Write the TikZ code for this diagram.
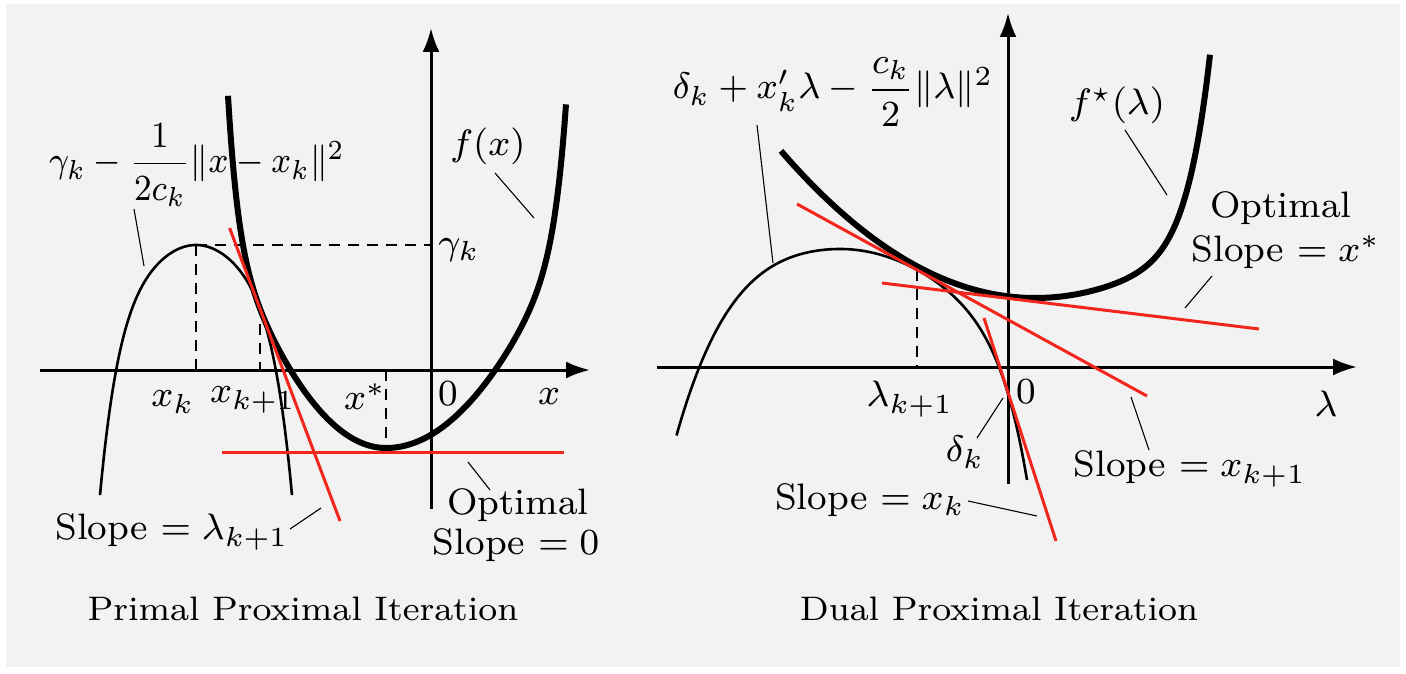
\documentclass[tikz,border=0pt]{standalone}
\usepackage{amsmath}
\usepackage{graphicx}
\usetikzlibrary{arrows.meta}

\definecolor{panelgray}{HTML}{F2F2F2}
\definecolor{tanred}{HTML}{F2261C}

% labels are set small and blown up, like the scanned figure
\newcommand{\lbltxt}[1]{\scalebox{4.6}{\fontsize{8}{9.6}\selectfont #1}}
\newcommand{\captxt}[1]{\scalebox{4.45}[4.25]{\fontsize{8}{9.6}\selectfont #1}}

\begin{document}
\begin{tikzpicture}[
    x=1pt, y=-1pt,
    declare function={
      pw(\x)=ifthenelse(\x<386,(386-\x)/100,(\x-386)/114.3);
      fprimal(\x)=448-85.43*pw(\x)^2-0.0921*pw(\x)^16;
      proxfn(\x)=245+127*(abs(\x-196)/100)^2+170*(abs(\x-196)/100)^6;
      dw(\x)=abs(\x-840)/100;
      dualfn(\x)=249+ifthenelse(\x<840,31*dw(\x)^2+14.5*dw(\x)^4,35*dw(\x)^2+0.726*dw(\x)^8);
      cw(\x)=abs(\x-1035)/100;
      conjfn(\x)=298-ifthenelse(\x<1035,22.8*cw(\x)^2,22*cw(\x)^2+2*cw(\x)^8);
    },
    axis/.style={line width=3pt, -{Latex[length=24pt,width=17pt]}},
    convex/.style={line width=6pt, line join=round},
    concave/.style={line width=2.6pt, line join=round},
    tangent/.style={line width=3pt, draw=tanred},
    leader/.style={line width=1.1pt},
    guide/.style={line width=1.4pt, dash pattern=on 11pt off 8pt},
    lbl/.style={inner sep=0pt}
]
\useasboundingbox (0,0) rectangle (1406,674);
\fill[white] (0,0) rectangle (1406,674);
\fill[panelgray] (6,4) rectangle (1400,667);

% ---------------- Primal proximal iteration ----------------
\coordinate (pxL) at (40,370);
\coordinate (pxR) at (590,370);
\coordinate (pyB) at (431,509);
\coordinate (pyT) at (431,28);
\draw[axis] (pxL) -- (pxR);
\draw[axis] (pyB) -- (pyT);

% key points
\coordinate (peak) at (196,245);
\coordinate (peakx) at (196,370);
\coordinate (gammay) at (431,245);
\coordinate (touch) at (260,324);
\coordinate (touchx) at (260,370);
\coordinate (xopt) at (386,448);
\coordinate (xoptx) at (386,370);

% dashed guides
\draw[guide] (peak) -- (gammay);
\draw[guide] (peak) -- (peakx);
\draw[guide] (touch) -- (touchx);
\draw[guide] (xoptx) -- (xopt);

% curves
\draw[concave] plot[domain=100:292, samples=120] (\x,{proxfn(\x)});
\draw[convex] plot[domain=228:566, samples=240] (\x,{fprimal(\x)});

% tangent lines
\coordinate (tA1) at (229.6,228);
\coordinate (tA2) at (340,521);
\coordinate (tB1) at (222,452);
\coordinate (tB2) at (564,452);
\draw[tangent] (tA1) -- (tA2);
\draw[tangent] (tB1) -- (tB2);

% labels
\node[lbl] (proxlab) at (197,165) {\scalebox{0.9}[1]{\lbltxt{$\gamma_k - \dfrac{1}{2c_k}\|x - x_k\|^2$}}};
\node[lbl] (fx) at (488,146) {\lbltxt{$f(x)$}};
\node[lbl] (gk) at (459,250) {\lbltxt{$\gamma_k$}};
\node[lbl] (xk) at (173,402) {\lbltxt{$x_k$}};
\node[lbl] (xk1) at (253,400) {\lbltxt{$x_{k+1}$}};
\node[lbl] (xs) at (365,397) {\lbltxt{$x^*$}};
\node[lbl] (zeroL) at (448,394) {\lbltxt{$0$}};
\node[lbl] (xlab) at (549,397) {\lbltxt{$x$}};
\node[lbl] (slopeL) at (172,532) {\lbltxt{Slope $=\lambda_{k+1}$}};
\node[lbl] (optL) at (518,505) {\lbltxt{Optimal}};
\node[lbl] (zeroslope) at (516,545) {\lbltxt{Slope $=0$}};
\node[lbl] (primal) at (303,609) {\captxt{Primal Proximal Iteration}};

% leaders
\coordinate (lp1) at (134,209);
\coordinate (lp2) at (144,266);
\coordinate (lf1) at (495,173);
\coordinate (lf2) at (534,218);
\coordinate (lo1) at (468,462);
\coordinate (lo2) at (490,490);
\coordinate (ls1) at (290,529);
\coordinate (ls2) at (321,508);
\draw[leader] (lp1) -- (lp2);
\draw[leader] (lf1) -- (lf2);
\draw[leader] (lo1) -- (lo2);
\draw[leader] (ls1) -- (ls2);

% ---------------- Dual proximal iteration ----------------
\coordinate (dxL) at (657,367);
\coordinate (dxR) at (1357,367);
\coordinate (dyB) at (1008,484);
\coordinate (dyT) at (1008,13);
\draw[axis] (dxL) -- (dxR);
\draw[axis] (dyB) -- (dyT);

\coordinate (lamtop) at (917,270);
\coordinate (lamx) at (917,367);
\draw[guide] (lamtop) -- (lamx);

% curves
\draw[concave] plot[domain=676.5:1027, samples=200] (\x,{dualfn(\x)});
\draw[convex] plot[domain=781:1210, samples=240] (\x,{conjfn(\x)});

% tangent lines
\coordinate (dA1) at (797,204);
\coordinate (dA2) at (1147,396);
\coordinate (dB1) at (882,283);
\coordinate (dB2) at (1259,329);
\coordinate (dC1) at (984,318);
\coordinate (dC2) at (1056,541);
\draw[tangent] (dA1) -- (dA2);
\draw[tangent] (dB1) -- (dB2);
\draw[tangent] (dC1) -- (dC2);

% labels
\node[lbl] (duallab) at (833,92) {\scalebox{0.97}[1]{\lbltxt{$\delta_k + x_k'\lambda - \dfrac{c_k}{2}\|\lambda\|^2$}}};
\node[lbl] (fstar) at (1117,105) {\lbltxt{$f^\star(\lambda)$}};
\node[lbl] (lamk1) at (910,399) {\lbltxt{$\lambda_{k+1}$}};
\node[lbl] (zeroR) at (1026,392) {\lbltxt{$0$}};
\node[lbl] (lamlab) at (1326,404) {\lbltxt{$\lambda$}};
\node[lbl] (dk) at (965,452) {\lbltxt{$\delta_k$}};
\node[lbl] (slopexk) at (870,500) {\lbltxt{Slope $=x_k$}};
\node[lbl] (slopexk1) at (1190,469) {\lbltxt{Slope $=x_{k+1}$}};
\node[lbl] (optR) at (1281,208) {\lbltxt{Optimal}};
\node[lbl] (slopexs) at (1286,252) {\lbltxt{Slope $=x^*$}};
\node[lbl] (dual) at (999,609) {\captxt{Dual Proximal Iteration}};

% leaders
\coordinate (ld1) at (757,125);
\coordinate (ld2) at (773,263);
\coordinate (lfs1) at (1125,130);
\coordinate (lfs2) at (1167,195);
\coordinate (lor1) at (1212,276);
\coordinate (lor2) at (1185,308);
\coordinate (ldk1) at (977,438);
\coordinate (ldk2) at (1003,398);
\coordinate (lx1a) at (1131,397);
\coordinate (lx1b) at (1149,450);
\coordinate (lxa) at (968,501);
\coordinate (lxb) at (1037,516);
\draw[leader] (ld1) -- (ld2);
\draw[leader] (lfs1) -- (lfs2);
\draw[leader] (lor1) -- (lor2);
\draw[leader] (ldk1) -- (ldk2);
\draw[leader] (lx1a) -- (lx1b);
\draw[leader] (lxa) -- (lxb);
\end{tikzpicture}
\end{document}
